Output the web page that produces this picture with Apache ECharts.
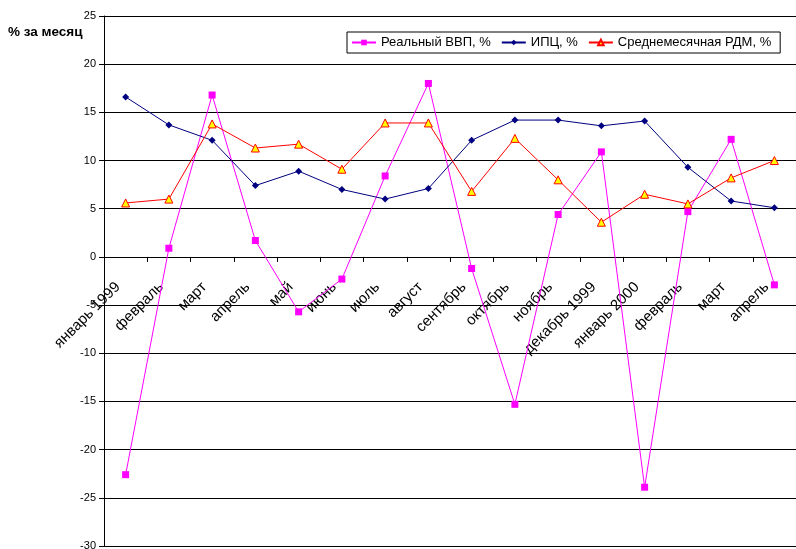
<!DOCTYPE html>
<html>
<head>
<meta charset="utf-8">
<script src="https://cdn.jsdelivr.net/npm/echarts@6/dist/echarts.min.js"></script>
<style>
  html, body { margin: 0; padding: 0; background: #fff; }
  #chart { width: 796px; height: 549px; }
</style>
</head>
<body>
<div id="chart"></div>
<script>
// Monthly categories, January 1999 - April 2000
const months = ['январь 1999', 'февраль', 'март', 'апрель', 'май', 'июнь', 'июль', 'август',
  'сентябрь', 'октябрь', 'ноябрь', 'декабрь 1999', 'январь 2000', 'февраль', 'март', 'апрель'];

// Real GDP, % per month
const gdp = [-22.6, 0.9, 16.8, 1.7, -5.7, -2.3, 8.4, 18.0, -1.2, -15.3, 4.4, 10.9, -23.9, 4.7, 12.2, -2.9];
// Consumer price index, % per month
const cpi = [16.6, 13.7, 12.1, 7.4, 8.9, 7.0, 6.0, 7.1, 12.1, 14.2, 14.2, 13.6, 14.1, 9.3, 5.8, 5.1];
// Average monthly monetary base, % per month
const rdm = [5.6, 6.0, 13.8, 11.3, 11.7, 9.1, 13.9, 13.9, 6.8, 12.3, 8.0, 3.6, 6.5, 5.5, 8.2, 10.0];

const seriesNames = ['Реальный ВВП, %', 'ИПЦ, %', 'Среднемесячная РДМ, %'];
const yTicks = { min: -30, max: 25, step: 5 };

const font = 'Liberation Sans, Arial, sans-serif';
const chart = echarts.init(document.getElementById('chart'), null, { renderer: 'canvas' });

chart.setOption({
  animation: false,
  backgroundColor: '#fff',
  textStyle: { fontFamily: font },
  grid: { left: 104, right: 0, top: 16, bottom: 3, containLabel: false, outerBoundsMode: 'none' },
  graphic: [{
    type: 'text', left: 8, top: 25,
    style: { text: '% за месяц', font: 'bold 13.5px ' + font, fill: '#000' }
  }],
  legend: {
    left: 347, top: 32,
    borderColor: '#000', borderWidth: 1, borderRadius: 0,
    padding: [4, 9, 4, 4],
    itemGap: 10, itemWidth: 24, itemHeight: 7,
    textStyle: { fontSize: 13, color: '#000', fontFamily: font },
    data: seriesNames
  },
  xAxis: {
    type: 'category', data: months, boundaryGap: true,
    position: 'bottom',
    axisLine: { onZero: false, lineStyle: { color: '#000', width: 1 } },
    axisTick: { show: true, length: 5, lineStyle: { color: '#000' } },
    axisLabel: {
      rotate: 45, fontSize: 15, color: '#000', margin: 20, interval: 0,
      padding: [0, 11, 0, 0], fontFamily: font
    },
    splitLine: { show: false }
  },
  yAxis: {
    type: 'value', min: yTicks.min, max: yTicks.max, interval: yTicks.step,
    axisLine: { show: true, lineStyle: { color: '#000', width: 1 } },
    axisTick: { show: true, length: 5, lineStyle: { color: '#000' } },
    axisLabel: { fontSize: 11, color: '#000', margin: 8, fontFamily: font },
    splitLine: { show: true, lineStyle: { color: '#000', width: 1 } }
  },
  series: [
    {
      name: seriesNames[0], type: 'line', data: gdp,
      symbol: 'rect', symbolSize: 7,
      lineStyle: { color: '#ff00ff', width: 1 },
      itemStyle: { color: '#ff00ff' }
    },
    {
      name: seriesNames[1], type: 'line', data: cpi,
      symbol: 'diamond', symbolSize: 7,
      lineStyle: { color: '#000080', width: 1 },
      itemStyle: { color: '#000080' }
    },
    {
      name: seriesNames[2], type: 'line', data: rdm,
      symbol: 'triangle', symbolSize: 8,
      lineStyle: { color: '#ff0000', width: 1 },
      itemStyle: { color: '#ffff00', borderColor: '#ff0000', borderWidth: 1 }
    }
  ]
});

// Move the category axis (line, ticks, labels) up to the zero level of the value axis
const zeroPx = chart.convertToPixel({ yAxisIndex: 0 }, 0);
const floorPx = chart.convertToPixel({ yAxisIndex: 0 }, yTicks.min);
chart.setOption({ xAxis: { offset: zeroPx - floorPx } });
</script>
</body>
</html>
